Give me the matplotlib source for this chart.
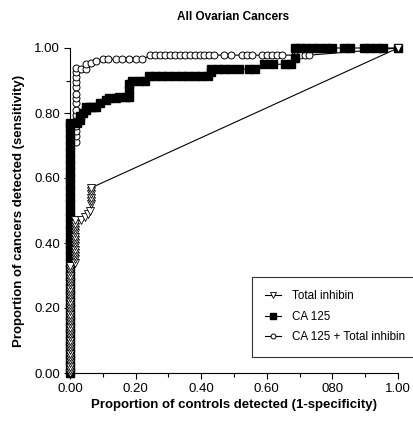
import matplotlib
matplotlib.use('Agg')
import matplotlib.pyplot as plt
from matplotlib.ticker import FixedLocator

plt.rcParams['font.family'] = ['Liberation Sans', 'DejaVu Sans']

# ---- data ----
# Total inhibin (open down-triangles)
inhibin_x = [0.00, 0.00, 0.00, 0.00, 0.00, 0.00, 0.00, 0.00, 0.00, 0.00,
             0.00, 0.00, 0.00, 0.00, 0.00, 0.00, 0.00, 0.00, 0.00, 0.00,
             0.00, 0.00, 0.00, 0.00, 0.00, 0.00, 0.00, 0.00, 0.00, 0.00,
             0.00, 0.00, 0.00, 0.00,
             0.015, 0.015, 0.015, 0.015, 0.015, 0.015, 0.015, 0.015, 0.015, 0.015,
             0.015, 0.015, 0.015, 0.015,
             0.035, 0.045, 0.055, 0.06, 0.065, 0.065, 0.065, 0.065, 0.065, 0.065,
             1.00]
inhibin_y = [0.00, 0.01, 0.02, 0.03, 0.04, 0.05, 0.06, 0.07, 0.08, 0.09,
             0.10, 0.11, 0.12, 0.13, 0.14, 0.15, 0.16, 0.17, 0.18, 0.19,
             0.20, 0.21, 0.22, 0.23, 0.24, 0.25, 0.26, 0.27, 0.28, 0.29,
             0.30, 0.31, 0.32, 0.33,
             0.34, 0.35, 0.36, 0.37, 0.38, 0.39, 0.40, 0.41, 0.42, 0.43,
             0.44, 0.45, 0.46, 0.47,
             0.47, 0.48, 0.49, 0.50, 0.52, 0.53, 0.54, 0.55, 0.56, 0.57,
             1.00]

# CA 125 (filled squares)
ca125_x = [0.00, 0.00, 0.00, 0.00, 0.00, 0.00, 0.00, 0.00, 0.00, 0.00,
           0.00, 0.00, 0.00, 0.00, 0.00, 0.00, 0.00, 0.00, 0.00, 0.00,
           0.00, 0.00, 0.00, 0.00, 0.00, 0.00, 0.00, 0.00, 0.00, 0.00,
           0.00, 0.00, 0.00, 0.00, 0.00, 0.00, 0.00, 0.00, 0.00, 0.00,
           0.02, 0.03, 0.03, 0.04, 0.05, 0.05, 0.06, 0.07, 0.08, 0.09,
           0.11, 0.12, 0.14, 0.15, 0.17, 0.18, 0.18, 0.18, 0.19, 0.21,
           0.23, 0.24, 0.26, 0.28, 0.30, 0.32, 0.34, 0.36, 0.38, 0.40,
           0.42, 0.43, 0.43, 0.45, 0.47, 0.49, 0.515, 0.545, 0.565, 0.59,
           0.62, 0.655, 0.675, 0.685, 0.685, 0.70, 0.72, 0.74, 0.76, 0.78,
           0.80, 0.835, 0.855, 0.895, 0.915, 0.935, 0.955, 1.00]
ca125_y = [0.00, 0.02, 0.04, 0.06, 0.08, 0.10, 0.12, 0.14, 0.16, 0.18,
           0.20, 0.22, 0.24, 0.26, 0.28, 0.30, 0.32, 0.34, 0.36, 0.38,
           0.40, 0.42, 0.44, 0.46, 0.48, 0.50, 0.52, 0.54, 0.56, 0.58,
           0.60, 0.62, 0.64, 0.66, 0.68, 0.70, 0.72, 0.74, 0.76, 0.77,
           0.77, 0.78, 0.79, 0.80, 0.81, 0.82, 0.82, 0.82, 0.82, 0.83,
           0.84, 0.845, 0.845, 0.85, 0.85, 0.85, 0.87, 0.89, 0.90, 0.90,
           0.90, 0.915, 0.915, 0.915, 0.915, 0.915, 0.915, 0.915, 0.915, 0.915,
           0.915, 0.925, 0.935, 0.935, 0.935, 0.935, 0.935, 0.935, 0.935, 0.95,
           0.95, 0.95, 0.95, 0.97, 1.00, 1.00, 1.00, 1.00, 1.00, 1.00,
           1.00, 1.00, 1.00, 1.00, 1.00, 1.00, 1.00, 1.00]

# CA 125 + Total inhibin (open circles)
combo_x = [0.00, 0.00, 0.00, 0.00, 0.00, 0.00, 0.00, 0.00, 0.00, 0.00,
           0.00, 0.00, 0.00, 0.00, 0.00, 0.00, 0.00, 0.00, 0.00, 0.00,
           0.00, 0.00, 0.00, 0.00, 0.00, 0.00, 0.00, 0.00, 0.00, 0.00,
           0.00, 0.00, 0.00, 0.00, 0.00, 0.00,
           0.017, 0.017, 0.017, 0.017, 0.017, 0.017, 0.017, 0.017, 0.017, 0.017,
           0.017, 0.017, 0.017, 0.017, 0.017,
           0.035, 0.05, 0.05, 0.065, 0.08, 0.10, 0.115, 0.14, 0.16, 0.18,
           0.20, 0.22,
           0.245, 0.26, 0.275, 0.29, 0.305, 0.32, 0.335, 0.35, 0.365, 0.38,
           0.395, 0.41, 0.425, 0.44, 0.47, 0.49, 0.525, 0.54, 0.555, 0.585,
           0.60, 0.615, 0.63, 0.645, 0.685, 0.70, 0.715, 0.73, 1.00]
combo_y = [0.00, 0.02, 0.04, 0.06, 0.08, 0.10, 0.12, 0.14, 0.16, 0.18,
           0.20, 0.22, 0.24, 0.26, 0.28, 0.30, 0.32, 0.34, 0.36, 0.38,
           0.40, 0.42, 0.44, 0.46, 0.48, 0.50, 0.52, 0.54, 0.56, 0.58,
           0.60, 0.62, 0.64, 0.66, 0.68, 0.70,
           0.71, 0.73, 0.745, 0.76, 0.78, 0.795, 0.81, 0.83, 0.845, 0.86,
           0.88, 0.895, 0.91, 0.925, 0.94,
           0.935, 0.935, 0.95, 0.955, 0.96, 0.965, 0.965, 0.965, 0.965, 0.965,
           0.965, 0.965,
           0.978, 0.978, 0.978, 0.978, 0.978, 0.978, 0.978, 0.978, 0.978, 0.978,
           0.978, 0.978, 0.978, 0.978, 0.978, 0.978, 0.978, 0.978, 0.978, 0.978,
           0.978, 0.978, 0.978, 0.978, 0.978, 0.978, 0.978, 0.978, 1.00]

tick_vals = [0.0, 0.2, 0.4, 0.6, 0.8, 1.0]
minor_vals = [0.1, 0.3, 0.5, 0.7, 0.9]
xtick_labels = ['0.00', '0.20', '0.40', '0.60', '080', '1.00']
ytick_labels = ['0.00', '0.20', '0.40', '0.60', '0.80', '1.00']

fig = plt.figure(figsize=(4.13, 4.21), dpi=100)
ax = fig.add_axes([70 / 413, 48 / 421, 328 / 413, 325 / 421])

ax.plot(combo_x, combo_y, color='black', lw=0.8, marker='o', ms=5,
        mfc='white', mec='black', mew=0.7, clip_on=False, zorder=3,
        label='CA 125 + Total inhibin')
ax.plot(ca125_x, ca125_y, color='black', lw=0.8, marker='s', ms=5.6,
        mfc='black', mec='black', clip_on=False, zorder=4, label='CA 125')
ax.plot(inhibin_x, inhibin_y, color='black', lw=0.8, marker='v', ms=5.5,
        mfc='white', mec='black', mew=0.6, clip_on=False, zorder=5,
        label='Total inhibin')

ax.set_xlim(0, 1)
ax.set_ylim(0, 1)
ax.spines['top'].set_visible(False)
ax.spines['right'].set_visible(False)
ax.set_xticks(tick_vals)
ax.set_xticklabels(xtick_labels)
ax.set_yticks(tick_vals)
ax.set_yticklabels(ytick_labels)
ax.xaxis.set_minor_locator(FixedLocator(minor_vals))
ax.yaxis.set_minor_locator(FixedLocator(minor_vals))
ax.tick_params(which='major', length=4, width=0.8, labelsize=9.5, pad=3)
ax.tick_params(which='minor', length=3, width=0.8)

ax.set_xlabel('Proportion of controls detected (1-specificity)',
              fontsize=9.5, fontweight='bold', labelpad=3)
ax.set_ylabel('Proportion of cancers detected (sensitivity)',
              fontsize=9.5, fontweight='bold', labelpad=7)
fig.text(233 / 413, 1 - 17 / 421, 'All Ovarian Cancers', ha='center',
         va='center', fontsize=8.5, fontweight='bold')

handles, labels = ax.get_legend_handles_labels()
leg = fig.legend(handles[::-1], labels[::-1], loc='upper left',
                 bbox_to_anchor=(252 / 413, 1 - 277 / 421), borderaxespad=0,
                 fontsize=8.4, frameon=True, fancybox=False, handlelength=1.3,
                 handletextpad=1.0, labelspacing=0.72, borderpad=1.15,
                 markerscale=0.7)
leg.get_frame().set_edgecolor('black')
leg.get_frame().set_linewidth(0.8)

fig.savefig('out.png', dpi=100)
